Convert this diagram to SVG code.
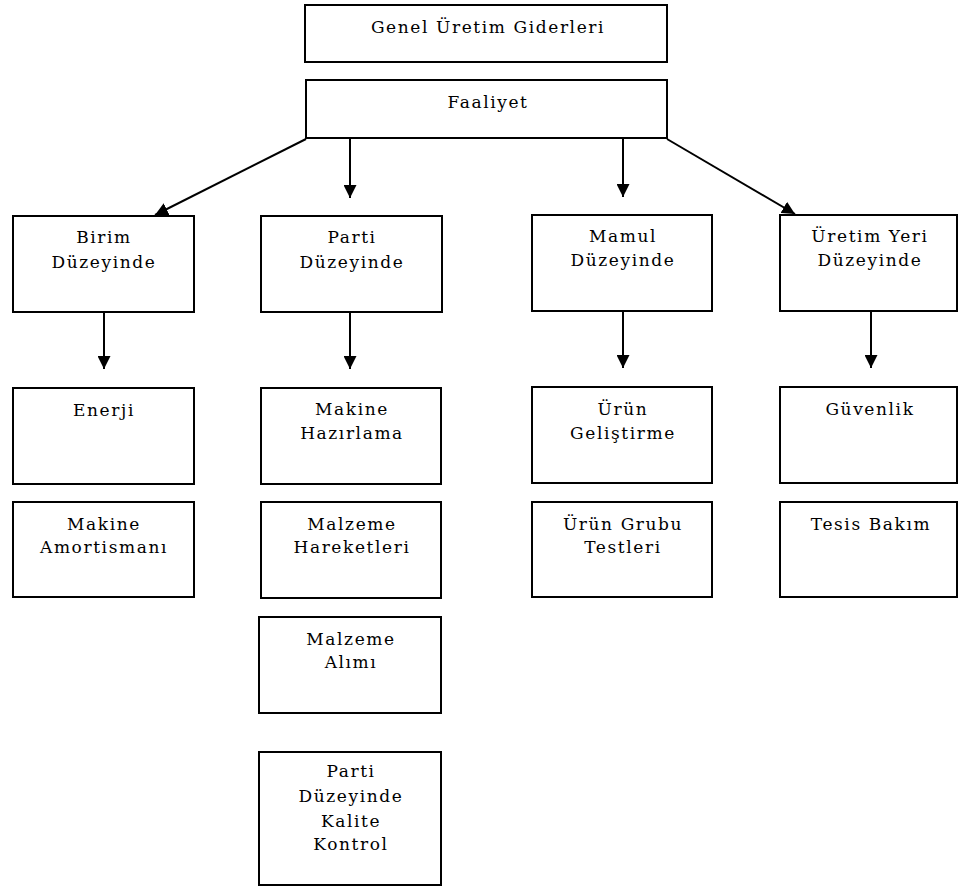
<svg xmlns="http://www.w3.org/2000/svg" width="959" height="888" viewBox="0 0 959 888">
<style>
rect.box{fill:#fff;stroke:#000;stroke-width:2}
text{font-family:"DejaVu Serif","Liberation Serif",serif;font-size:17px;fill:#000;text-anchor:middle;letter-spacing:1.6px}
line.c{stroke:#000;stroke-width:2;marker-end:url(#ah)}
</style>
<defs>
<marker id="ah" markerWidth="13" markerHeight="13" refX="10" refY="5" orient="auto" markerUnits="userSpaceOnUse" viewBox="0 0 10 10">
<path d="M0,0 L10,5 L0,10 Z" fill="#000"/>
</marker>
</defs>
<rect width="959" height="888" fill="#fff"/>
<g id="connectors">
<line class="c" x1="306" y1="139" x2="155" y2="215"/>
<line class="c" x1="350" y1="139" x2="350" y2="198"/>
<line class="c" x1="623" y1="139" x2="623" y2="197"/>
<line class="c" x1="667" y1="139" x2="795" y2="214"/>
<line class="c" x1="104" y1="312" x2="104" y2="369"/>
<line class="c" x1="350" y1="312" x2="350" y2="369"/>
<line class="c" x1="623" y1="312" x2="623" y2="368"/>
<line class="c" x1="871" y1="312" x2="871" y2="368"/>
</g>
<g id="genel"><rect class="box" x="305" y="5" width="362" height="57"/><text x="488" y="33">Genel Üretim Giderleri</text></g>
<g id="faaliyet"><rect class="box" x="306" y="80" width="361" height="58"/><text x="488" y="108">Faaliyet</text></g>
<g id="birim"><rect class="box" x="13" y="216" width="181" height="96"/><text x="104" y="243">Birim</text><text x="104" y="268">Düzeyinde</text></g>
<g id="parti"><rect class="box" x="261" y="216" width="181" height="96"/><text x="352" y="243">Parti</text><text x="352" y="268">Düzeyinde</text></g>
<g id="mamul"><rect class="box" x="532" y="215" width="180" height="96"/><text x="623" y="242">Mamul</text><text x="623" y="266">Düzeyinde</text></g>
<g id="uretimyeri"><rect class="box" x="780" y="215" width="177" height="96"/><text x="870" y="242">Üretim Yeri</text><text x="870" y="266">Düzeyinde</text></g>
<g id="enerji"><rect class="box" x="13" y="388" width="181" height="96"/><text x="104" y="416">Enerji</text></g>
<g id="makinehaz"><rect class="box" x="261" y="388" width="180" height="96"/><text x="352" y="415">Makine</text><text x="352" y="439">Hazırlama</text></g>
<g id="urungel"><rect class="box" x="532" y="387" width="180" height="96"/><text x="623" y="415">Ürün</text><text x="623" y="439">Geliştirme</text></g>
<g id="guvenlik"><rect class="box" x="780" y="387" width="177" height="96"/><text x="870" y="415">Güvenlik</text></g>
<g id="makineamo"><rect class="box" x="13" y="502" width="181" height="95"/><text x="104" y="530">Makine</text><text x="104" y="553">Amortismanı</text></g>
<g id="malzemehar"><rect class="box" x="261" y="502" width="180" height="96"/><text x="352" y="530">Malzeme</text><text x="352" y="553">Hareketleri</text></g>
<g id="urungrubu"><rect class="box" x="532" y="502" width="180" height="95"/><text x="623" y="530">Ürün Grubu</text><text x="623" y="553">Testleri</text></g>
<g id="tesis"><rect class="box" x="780" y="502" width="177" height="95"/><text x="871" y="530">Tesis Bakım</text></g>
<g id="malzemealim"><rect class="box" x="259" y="617" width="182" height="96"/><text x="351" y="645">Malzeme</text><text x="351" y="668">Alımı</text></g>
<g id="kalite"><rect class="box" x="259" y="752" width="182" height="133"/><text x="351" y="777">Parti</text><text x="351" y="802">Düzeyinde</text><text x="351" y="827">Kalite</text><text x="351" y="850">Kontrol</text></g>
</svg>
